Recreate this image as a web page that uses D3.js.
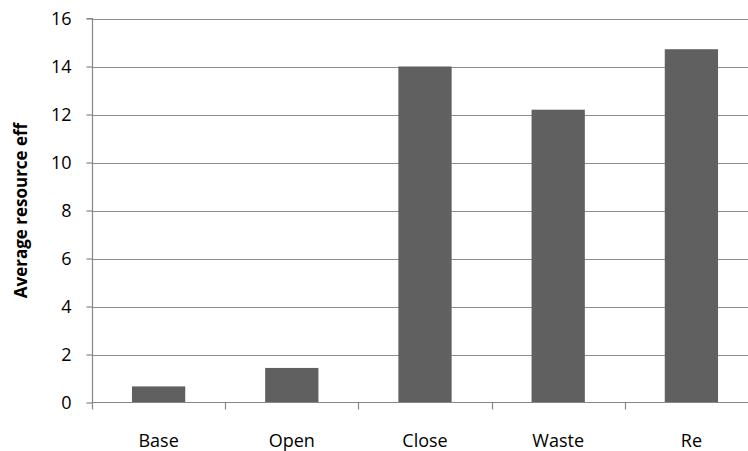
<!DOCTYPE html>
<html>
<head>
<meta charset="utf-8">
<script src="https://cdn.jsdelivr.net/npm/d3@7"></script>
<style>
html,body{margin:0;padding:0;background:#fff;overflow:hidden;}
svg{display:block;}
</style>
</head>
<body>
<script>
const categories = ["Base", "Open", "Close", "Waste", "Re"];
const values = [0.67, 1.44, 14.0, 12.2, 14.72];
const yTicks = [0, 2, 4, 6, 8, 10, 12, 14, 16];
const yTitle = "Average resource eff";

(function () {
const W = 748, H = 451;
const mLeft = 92, mRight = 758, mTop = 18.5, mBottom = 402.5;
const font = "'Open Sans', sans-serif";

const svg = d3.select("body").append("svg").attr("width", W).attr("height", H);

const x = d3.scaleBand().domain(categories).range([mLeft, mRight]).paddingInner(0.6).paddingOuter(0.3);
const xb = d3.scaleBand().domain(categories).range([mLeft, mRight]);
const y = d3.scaleLinear().domain([0, 16]).range([mBottom, mTop]);

// gridlines
svg.append("g").selectAll("line").data(yTicks.filter(d => d > 0)).join("line")
  .attr("x1", mLeft).attr("x2", W)
  .attr("y1", d => Math.round(y(d)) + 0.5).attr("y2", d => Math.round(y(d)) + 0.5)
  .attr("stroke", "#8e8e8e").attr("stroke-width", 1.2);

// bars
svg.append("g").selectAll("rect").data(categories).join("rect")
  .attr("x", d => x(d))
  .attr("width", x.bandwidth())
  .attr("y", (d, i) => y(values[i]))
  .attr("height", (d, i) => y(0) - y(values[i]))
  .attr("fill", "#606060");

// y axis
const yAxis = d3.axisLeft(y).tickValues(yTicks).tickSize(6).tickPadding(15).tickFormat(d3.format("d"));
const gy = svg.append("g").attr("transform", `translate(${mLeft + 0.5},0)`).call(yAxis);
gy.select(".domain").attr("stroke", "#868686").attr("stroke-width", 1.2).attr("d", `M-6,${y(16)}H0V${mBottom}`);
gy.selectAll(".tick line").attr("stroke", "#868686").attr("stroke-width", 1.2);
gy.selectAll(".tick text").attr("font-family", font).attr("font-size", 18).attr("fill", "#000").attr("dy", "0.36em");

// x axis
const xAxis = d3.axisBottom(xb).tickSize(0).tickPadding(0);
const gx = svg.append("g").attr("transform", `translate(0,${mBottom})`).call(xAxis);
gx.select(".domain").attr("stroke", "#868686").attr("stroke-width", 1.2).attr("d", `M${mLeft},0H${W}`);
gx.selectAll(".tick text").attr("font-family", font).attr("font-size", 18).attr("fill", "#000")
  .attr("y", 44).attr("dy", 0);
// x tick marks at band boundaries
svg.append("g").selectAll("line").data(categories).join("line")
  .attr("x1", d => Math.round(xb(d)) + 0.5).attr("x2", d => Math.round(xb(d)) + 0.5)
  .attr("y1", mBottom).attr("y2", mBottom + 7)
  .attr("stroke", "#868686").attr("stroke-width", 1.2);

// y title
svg.append("text")
  .attr("transform", `translate(27,${(mTop + mBottom) / 2}) rotate(-90)`)
  .attr("text-anchor", "middle")
  .attr("font-family", font).attr("font-weight", "bold").attr("font-size", 17)
  .attr("fill", "#000")
  .text(yTitle);
})();
</script>
</body>
</html>
